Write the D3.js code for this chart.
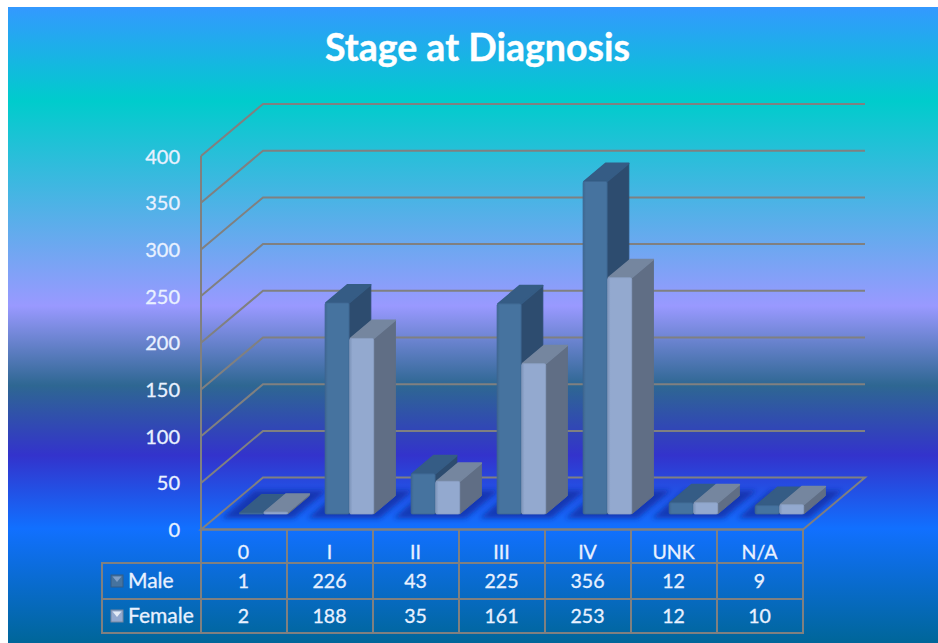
<!DOCTYPE html>
<html>
<head>
<meta charset="utf-8">
<script src="https://cdn.jsdelivr.net/npm/d3@7/dist/d3.min.js"></script>
<style>
html,body{margin:0;padding:0;background:#fff;overflow:hidden}
svg{display:block}
text{font-family:Lato,"Noto Sans",sans-serif}
</style>
</head>
<body>
<svg id="chart" width="938" height="643"></svg>
<script>
const categories = ["0","I","II","III","IV","UNK","N/A"];
const seriesNames = ["Male","Female"];
const male = [1,226,43,225,356,12,9];
const female = [2,188,35,161,253,12,10];
const yTicks = [0,50,100,150,200,250,300,350,400];

const svg = d3.select("#chart");
const defs = svg.append("defs");
const bgStops = [
  [0,"#3399ff"],[0.148,"#00cccc"],[0.47,"#9999ff"],[0.595,"#2e6792"],
  [0.705,"#3333cc"],[0.82,"#1170ff"],[1,"#006699"]
];
const bg = defs.append("linearGradient").attr("id","bg").attr("x1",0).attr("y1",0).attr("x2",0).attr("y2",1);
bgStops.forEach(s=>bg.append("stop").attr("offset",s[0]).attr("stop-color",s[1]));
defs.append("filter").attr("id","soft").attr("x","-20%").attr("y","-20%").attr("width","140%").attr("height","140%")
  .append("feGaussianBlur").attr("stdDeviation",2.5);

function faceGrad(id,a,b){
  const g=defs.append("linearGradient").attr("id",id);
  g.append("stop").attr("offset",0).attr("stop-color",a);
  g.append("stop").attr("offset",0.12).attr("stop-color",b);
  g.append("stop").attr("offset",1).attr("stop-color",b);
}
faceGrad("fMale","#3f6791","#46739f");
faceGrad("fFemale","#7d95bb","#93a9cf");
const palette = {
  Male:{front:"url(#fMale)",top:"#355c85",side:"#2d4c6f",edge:"#3e6690"},
  Female:{front:"url(#fFemale)",top:"#75869f",side:"#606e85",edge:"#8a9fc4"}
};

svg.append("rect").attr("x",8).attr("y",7).attr("width",930).attr("height",636).attr("fill","url(#bg)");

const gridColor="#808080";
const gridW=2;
const x = d3.scaleBand().domain(categories).range([201,803]);
const y = d3.scaleLinear().domain([0,400]).range([529.6,156]);
const dx = 62, dy = -52;
const sx = t=>t*dx, sy = t=>t*dy;
const barW = 24, tFront = 0.3, tBack = 0.65;

const line = d3.line();
const poly = pts=>line(pts)+"Z";

svg.append("g").selectAll("path").data(yTicks.slice(1)).join("path")
  .attr("fill","none").attr("stroke",gridColor).attr("stroke-width",gridW)
  .attr("d",d=>line([[x.range()[0],y(d)],[x.range()[0]+dx,y(d)+dy],[x.range()[1]+dx,y(d)+dy]]));
svg.append("line").attr("x1",201).attr("x2",201).attr("y1",y(400)).attr("y2",y(0))
  .attr("stroke",gridColor).attr("stroke-width",gridW);
svg.append("path").attr("fill","none").attr("stroke",gridColor).attr("stroke-width",gridW)
  .attr("d",poly([[201,y(0)],[201+dx,y(0)+dy],[803+dx,y(0)+dy],[803,y(0)]]));

svg.append("g").attr("filter","url(#soft)").selectAll("path").data(categories).join("path")
  .attr("fill","#10289c").attr("fill-opacity",0.72)
  .attr("d",c=>{
    const m=x(c)+x.bandwidth()/2, hw=36, t0=0.22, t1=0.75;
    return poly([[m-hw+sx(t0),y(0)+sy(t0)],[m+hw+sx(t0),y(0)+sy(t0)],[m+hw+sx(t1),y(0)+sy(t1)],[m-hw+sx(t1),y(0)+sy(t1)]]);
  });

const rows = [[seriesNames[0],male],[seriesNames[1],female]];
const barData = categories.flatMap((c,i)=>rows.map((r,k)=>({c,name:r[0],v:r[1][i],k})));
const bars = svg.append("g").selectAll("g").data(barData).join("g");
function geom(d){
  const m=x(d.c)+x.bandwidth()/2+sx(tFront)+0.5;
  const l=m-barW+d.k*(barW+0.6), r=l+barW;
  const b=y(0)+sy(tFront), t=y(d.v)+sy(tFront);
  const ox=sx(tBack-tFront), oy=sy(tBack-tFront);
  return {l,r,b,t,ox,oy};
}
bars.append("path").attr("fill",d=>palette[d.name].side)
  .attr("stroke",d=>palette[d.name].side).attr("stroke-width",1).attr("stroke-linejoin","round")
  .attr("d",d=>{const g=geom(d);return poly([[g.r,g.t],[g.r+g.ox,g.t+g.oy],[g.r+g.ox,g.b+g.oy],[g.r,g.b]]);});
bars.append("path").attr("fill",d=>palette[d.name].top).attr("stroke",d=>palette[d.name].top).attr("stroke-width",1.6).attr("stroke-linejoin","round")
  .attr("d",d=>{const g=geom(d);return poly([[g.l+.8,g.t],[g.l+g.ox+.8,g.t+g.oy],[g.r+g.ox,g.t+g.oy],[g.r,g.t]]);});
bars.append("rect").attr("fill",d=>palette[d.name].front)
  .attr("stroke",d=>palette[d.name].edge).attr("stroke-width",0.8).attr("rx",1.5)
  .attr("x",d=>geom(d).l).attr("y",d=>geom(d).t)
  .attr("width",barW).attr("height",d=>Math.max(0.6,geom(d).b-geom(d).t));

const textFill="#e9f1ff";
svg.append("g").selectAll("text").data(yTicks).join("text")
  .attr("x",180).attr("y",d=>y(d)+7.5).attr("text-anchor","end")
  .attr("font-size",20).attr("fill",textFill).attr("stroke",textFill).attr("stroke-width",0.3).text(d=>d);

const rowLines=[529.6,563,599,633];
const tbl=svg.append("g").attr("stroke",gridColor).attr("stroke-width",gridW).attr("fill","none");
rowLines.forEach((ry,i)=>{
  tbl.append("line").attr("x1",i===0?201:101).attr("x2",804).attr("y1",ry).attr("y2",ry);
});
tbl.append("line").attr("x1",102).attr("x2",102).attr("y1",563).attr("y2",633);
x.domain().forEach(c=>tbl.append("line").attr("x1",x(c)).attr("x2",x(c)).attr("y1",529.6).attr("y2",633));
tbl.append("line").attr("x1",803).attr("x2",803).attr("y1",529.6).attr("y2",633);

const cellText=svg.append("g").attr("font-size",19.5).attr("fill",textFill).attr("stroke",textFill).attr("stroke-width",0.3).attr("text-anchor","middle");
categories.forEach(c=>cellText.append("text").attr("x",x(c)+x.bandwidth()/2-0.5).attr("y",558.5).text(c));
rows.forEach((r,k)=>{
  const base=[588,623][k];
  r[1].forEach((v,i)=>cellText.append("text").attr("x",x(categories[i])+x.bandwidth()/2-0.5).attr("y",base).text(v));
  const key=svg.append("g");
  key.append("rect").attr("x",111).attr("y",base-13).attr("width",12).attr("height",12)
    .attr("fill",k?"#93a9cf":"#46739f").attr("stroke",k?"#75869f":"#355c85").attr("stroke-width",1);
  key.append("path").attr("fill",k?"#e4ebf6":"#7f9fc6")
    .attr("d",poly([[112.5,base-11.5],[121.5,base-11.5],[117,base-6]]));
  svg.append("text").attr("x",128).attr("y",base).attr("font-size",21).attr("fill",textFill).attr("stroke",textFill).attr("stroke-width",0.3).text(r[0]);
});

svg.append("text").attr("x",477.5).attr("y",60.5).attr("text-anchor","middle")
  .attr("font-size",37.5).attr("font-weight",700).attr("fill","#ffffff").attr("stroke","#ffffff").attr("stroke-width",0.4).text("Stage at Diagnosis");
</script>
</body>
</html>
